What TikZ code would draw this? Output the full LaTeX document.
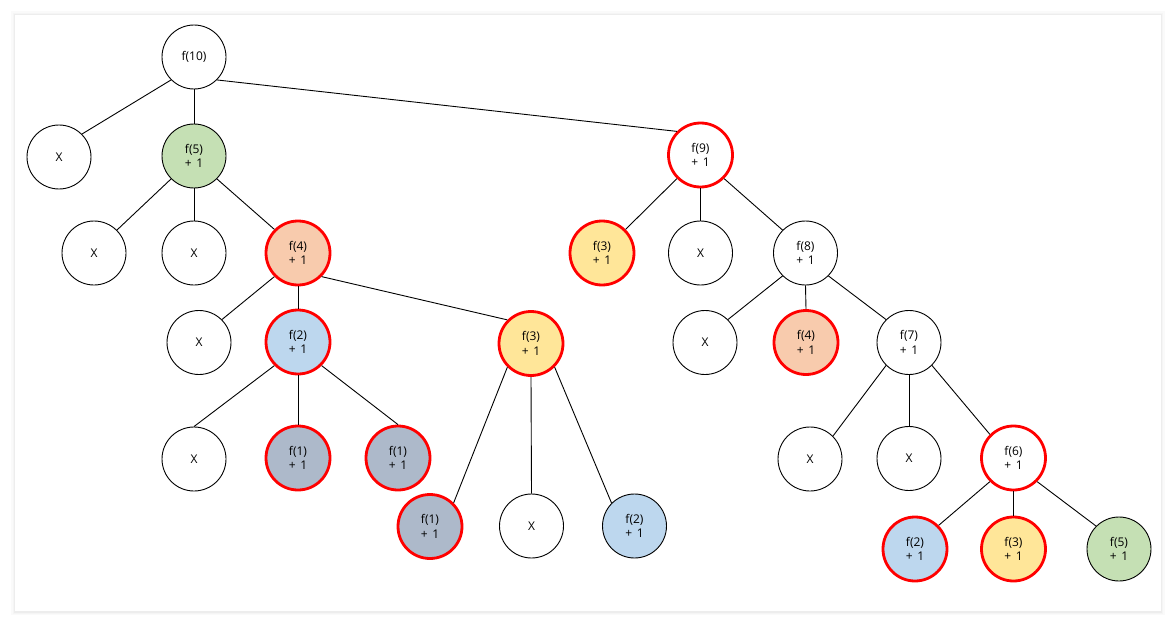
\documentclass[tikz,border=0pt]{standalone}
\usepackage{fontspec}
\setmainfont{Open Sans}
\definecolor{cgreen}{HTML}{C5E0B4}
\definecolor{corange}{HTML}{F8CBAD}
\definecolor{cblue}{HTML}{BDD7EE}
\definecolor{cgray}{HTML}{ADB9CA}
\definecolor{cyellow}{HTML}{FFE699}
\definecolor{cred}{HTML}{FF0000}
\newcommand{\pone}{+\hspace{0.38em}1}
\tikzset{
  nd/.style={circle, draw=black, line width=0.9pt, fill=white, minimum size=64pt, inner sep=0pt,
    align=center, font=\fontsize{12}{14.5}\selectfont},
  hot/.style={draw=cred, line width=2.8pt},
  edge/.style={draw=black, line width=0.9pt},
}
\begin{document}
\begin{tikzpicture}[x=1pt,y=-1pt]
\useasboundingbox (0,0) rectangle (1176,626);
\fill[white] (0,0) rectangle (1176,626);
% panel shadow and panel
\fill[black!2] (11,11) rectangle (1165,615);
\fill[black!4] (13,13) rectangle (1163,613.5);
\fill[black!7] (14,14) rectangle (1162,612.5);
\fill[white] (15,15) rectangle (1161,611);
% nodes
\node[nd] (f10) at (194,57) {f(10)};
\node[nd] (xa) at (59,157) {X};
\node[nd, fill=cgreen] (f5a) at (194,156) {f(5)\\\pone};
\node[nd, hot] (f9) at (700.5,155) {f(9)\\\pone};
\node[nd] (xb) at (94,253) {X};
\node[nd] (xc) at (194,253) {X};
\node[nd, hot, fill=corange] (f4a) at (298,253) {f(4)\\\pone};
\node[nd, hot, fill=cyellow] (f3a) at (602,253) {f(3)\\\pone};
\node[nd] (xd) at (700.5,253) {X};
\node[nd] (f8) at (805.5,253) {f(8)\\\pone};
\node[nd] (xe) at (199,342.5) {X};
\node[nd, hot, fill=cblue] (f2a) at (298,342) {f(2)\\\pone};
\node[nd, hot, fill=cyellow] (f3b) at (531,343.5) {f(3)\\\pone};
\node[nd] (xf) at (705,342.5) {X};
\node[nd, hot, fill=corange] (f4b) at (806,342.5) {f(4)\\\pone};
\node[nd] (f7) at (909,342.5) {f(7)\\\pone};
\node[nd] (xg) at (194,459) {X};
\node[nd, hot, fill=cgray] (f1a) at (298,458) {f(1)\\\pone};
\node[nd, hot, fill=cgray] (f1b) at (398,458) {f(1)\\\pone};
\node[nd] (xh) at (810,459) {X};
\node[nd] (xi) at (909,458.5) {X};
\node[nd, hot] (f6) at (1013.5,458) {f(6)\\\pone};
\node[nd, hot, fill=cgray] (f1c) at (430,526.5) {f(1)\\\pone};
\node[nd] (xj) at (531.5,526) {X};
\node[nd, fill=cblue] (f2b) at (634.5,526) {f(2)\\\pone};
\node[nd, hot, fill=cblue] (f2c) at (915,549) {f(2)\\\pone};
\node[nd, hot, fill=cyellow] (f3c) at (1013.5,549) {f(3)\\\pone};
\node[nd, fill=cgreen] (f5b) at (1119,549) {f(5)\\\pone};
% edges
\draw[edge] (f10.south west) -- (xa.north east);
\draw[edge] (f10.south) -- (f5a.north);
\draw[edge] (f10.south east) -- (f9.north west);
\draw[edge] (f5a.south west) -- (xb.north east);
\draw[edge] (f5a.south) -- (xc.north);
\draw[edge] (f5a.south east) -- (f4a.north west);
\draw[edge] (f4a.south west) -- (xe.north east);
\draw[edge] (f4a.south) -- (f2a.north);
\draw[edge] (f4a.south east) -- (f3b.north west);
\draw[edge] (f2a.south west) -- (xg.north);
\draw[edge] (f2a.south) -- (f1a.north);
\draw[edge] (f2a.south east) -- (f1b.north);
\draw[edge] (f3b.south west) -- (f1c.north east);
\draw[edge] (f3b.south) -- (xj.north);
\draw[edge] (f3b.south east) -- (f2b.north west);
\draw[edge] (f9.south west) -- (f3a.north east);
\draw[edge] (f9.south) -- (xd.north);
\draw[edge] (f9.south east) -- (f8.north west);
\draw[edge] (f8.south west) -- (xf.north east);
\draw[edge] (f8.south) -- (f4b.north);
\draw[edge] (f8.south east) -- (f7.north west);
\draw[edge] (f7.south west) -- (xh.north east);
\draw[edge] (f7.south) -- (xi.north);
\draw[edge] (f7.south east) -- (f6.north west);
\draw[edge] (f6.south west) -- (f2c.north east);
\draw[edge] (f6.south) -- (f3c.north);
\draw[edge] (f6.south east) -- (f5b.north west);
\end{tikzpicture}
\end{document}
